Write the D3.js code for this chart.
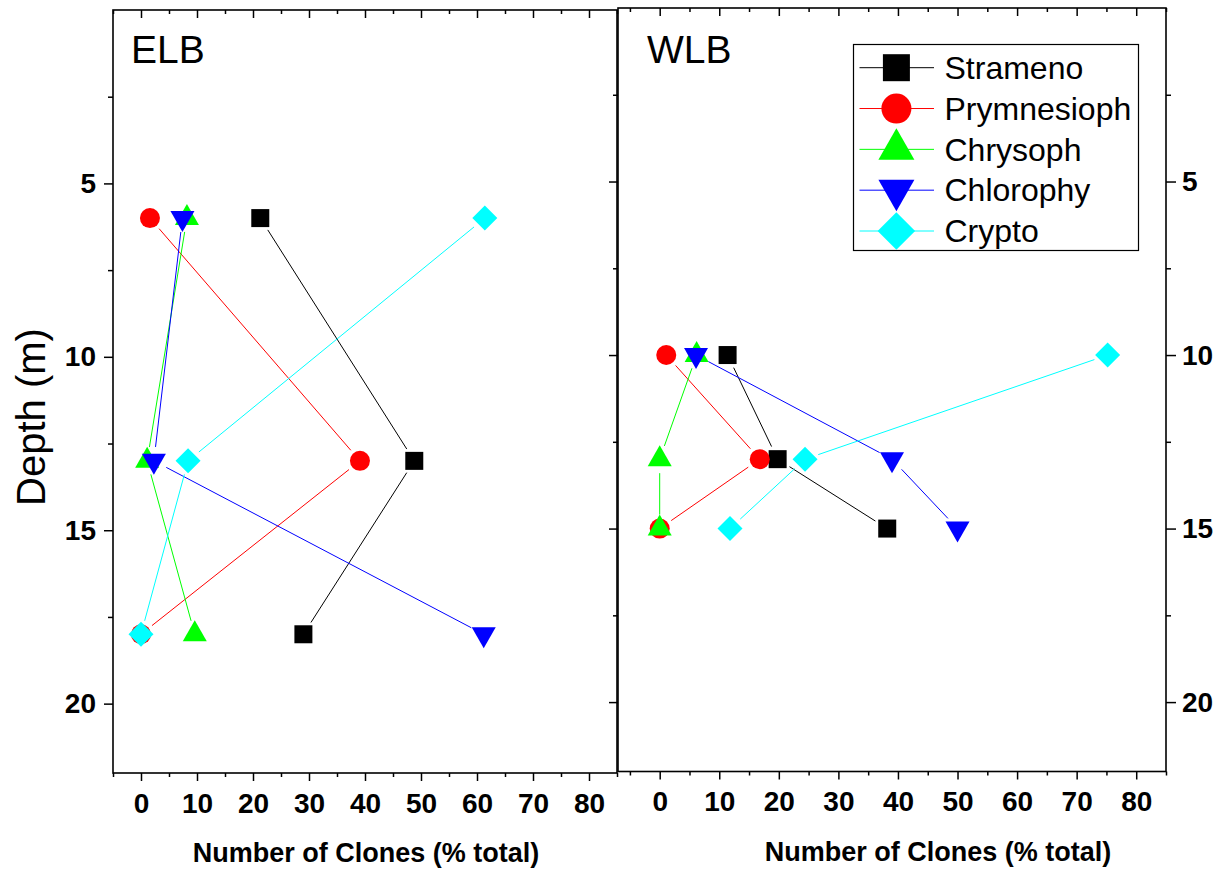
<!DOCTYPE html>
<html>
<head>
<meta charset="utf-8">
<script src="https://cdn.jsdelivr.net/npm/d3@7"></script>
<style>
  body { margin: 0; background: #fff; }
  svg { display: block; }
  text { font-family: "Liberation Sans", Arial, sans-serif; }
</style>
</head>
<body>
<svg id="chart" width="1220" height="869"></svg>
<script>
// Clone-library composition (% of total clones) by depth, two basins
const seriesNames  = ["Strameno", "Prymnesioph", "Chrysoph", "Chlorophy", "Crypto"];
const seriesColors = ["#000000", "#ff0000", "#00ff00", "#0000ff", "#00ffff"];
const seriesShapes = ["square", "circle", "triangleUp", "triangleDown", "diamond"];

// ELB stations
const elbDepths       = [6, 13, 18];
const elbStrameno     = [21.3, 48.8, 29.0];
const elbPrymnesioph  = [1.6, 39.1, 0];
const elbChrysoph     = [8.2, 1.1, 9.6];
const elbChlorophy    = [7.4, 2.3, 61.2];
const elbCrypto       = [61.4, 8.4, 0];

// WLB stations
const wlbDepths       = [10, 13, 15];
const wlbStrameno     = [11.4, 19.8, 38.2];
const wlbPrymnesioph  = [1.1, 16.8, 0];
const wlbChrysoph     = [6.2, 0, 0];
const wlbChlorophy    = [6.1, 39.0, 50.0];
const wlbCrypto       = [75.2, 24.4, 11.8];

// Axis ticks
const xTickValues  = [0, 10, 20, 30, 40, 50, 60, 70, 80];
const xMinorValues = [-5, 5, 15, 25, 35, 45, 55, 65, 75, 85];
const yTickValues  = [5, 10, 15, 20];
const yMinorValues = [2.5, 7.5, 12.5, 17.5];

const xTitle = "Number of Clones (% total)";
const yTitle = "Depth (m)";

const svg = d3.select("#chart");

// Marker outline for each series shape; k scales it (legend uses larger markers)
function shapePath(kind, k) {
  switch (kind) {
    case "square": {
      const a = 9 * k;
      return `M${-a},${-a}H${a}V${a}H${-a}Z`;
    }
    case "circle": {
      const r = 10 * k;
      return `M${r},0A${r},${r} 0 1,1 ${-r},0A${r},${r} 0 1,1 ${r},0Z`;
    }
    case "triangleUp": {
      const w = 12 * k, t = -14 * k, b = 7 * k;
      return `M0,${t}L${w},${b}L${-w},${b}Z`;
    }
    case "triangleDown": {
      const w = 12 * k, t = 14 * k, b = -7 * k;
      return `M0,${t}L${w},${b}L${-w},${b}Z`;
    }
    case "diamond": {
      const a = 12.5 * k;
      return `M0,${-a}L${a},0L0,${a}L${-a},0Z`;
    }
  }
}

function styleTicks(g, fontSize) {
  g.select(".domain").remove();
  g.selectAll(".tick line").attr("stroke", "#000").attr("stroke-width", 1.5);
  g.selectAll(".tick text")
    .attr("fill", "#000")
    .style("font-size", fontSize + "px")
    .style("font-weight", "bold");
}

function drawPanel(cfg) {
  const x = d3.scaleLinear().domain(cfg.xDomain).range([cfg.left, cfg.right]);
  const y = d3.scaleLinear().domain([0, 22]).range([cfg.top, cfg.bottom]);
  const g = svg.append("g");

  // bottom axis: outward ticks with labels
  g.append("g").attr("transform", `translate(0,${cfg.bottom})`)
    .call(d3.axisBottom(x).tickValues(xTickValues).tickSize(8).tickPadding(12).tickFormat(d3.format("d")))
    .call(a => styleTicks(a, 28));
  g.append("g").attr("transform", `translate(0,${cfg.bottom})`)
    .call(d3.axisBottom(x).tickValues(xMinorValues).tickSize(4).tickFormat(""))
    .call(a => styleTicks(a, 28));

  // top axis: inward ticks
  g.append("g").attr("transform", `translate(0,${cfg.top})`)
    .call(d3.axisTop(x).tickValues(xTickValues).tickSize(-8).tickFormat(""))
    .call(a => styleTicks(a, 28));
  g.append("g").attr("transform", `translate(0,${cfg.top})`)
    .call(d3.axisTop(x).tickValues(xMinorValues).tickSize(-4).tickFormat(""))
    .call(a => styleTicks(a, 28));

  // left axis: outward ticks
  g.append("g").attr("transform", `translate(${cfg.left},0)`)
    .call(d3.axisLeft(y).tickValues(yTickValues).tickSize(9).tickPadding(8)
      .tickFormat(cfg.leftLabels ? d3.format("d") : ""))
    .call(a => styleTicks(a, 28));
  g.append("g").attr("transform", `translate(${cfg.left},0)`)
    .call(d3.axisLeft(y).tickValues(yMinorValues).tickSize(5).tickFormat(""))
    .call(a => styleTicks(a, 28));

  if (cfg.rightAxis) {
    g.append("g").attr("transform", `translate(${cfg.right},0)`)
      .call(d3.axisRight(y).tickValues(yTickValues).tickSize(10).tickPadding(6).tickFormat(d3.format("d")))
      .call(a => styleTicks(a, 28));
    g.append("g").attr("transform", `translate(${cfg.right},0)`)
      .call(d3.axisRight(y).tickValues(yMinorValues).tickSize(5).tickFormat(""))
      .call(a => styleTicks(a, 28));
  }

  // frame
  g.append("rect")
    .attr("x", cfg.left).attr("y", cfg.top)
    .attr("width", cfg.right - cfg.left).attr("height", cfg.bottom - cfg.top)
    .attr("fill", "none").attr("stroke", "#000").attr("stroke-width", 1.6);

  // series: connecting segments stop short of each marker
  const gap = 14;
  cfg.series.forEach((vals, i) => {
    const pts = vals.map((v, j) => [x(v), y(cfg.depths[j])]);
    const sg = g.append("g");
    for (let j = 0; j < pts.length - 1; j++) {
      const [x1, y1] = pts[j], [x2, y2] = pts[j + 1];
      const len = Math.hypot(x2 - x1, y2 - y1);
      if (len <= 2 * gap) continue;
      const ux = (x2 - x1) / len, uy = (y2 - y1) / len;
      sg.append("line")
        .attr("x1", x1 + ux * gap).attr("y1", y1 + uy * gap)
        .attr("x2", x2 - ux * gap).attr("y2", y2 - uy * gap)
        .attr("stroke", seriesColors[i]).attr("stroke-width", 1);
    }
    sg.selectAll("path.marker").data(pts).join("path")
      .attr("class", "marker")
      .attr("transform", d => `translate(${d[0]},${d[1]})`)
      .attr("d", shapePath(seriesShapes[i], 1))
      .attr("fill", seriesColors[i]);
  });

  // basin label
  g.append("text")
    .attr("x", cfg.labelX).attr("y", 63)
    .style("font-size", "39px")
    .attr("fill", "#000")
    .text(cfg.label);

  // x-axis title
  g.append("text")
    .attr("x", cfg.titleX).attr("y", cfg.titleY)
    .attr("text-anchor", "middle")
    .style("font-size", "27px").style("font-weight", "bold")
    .attr("fill", "#000")
    .text(xTitle);
}

drawPanel({
  left: 113, right: 617, top: 10, bottom: 773,
  xDomain: [-5, 85],
  depths: elbDepths,
  series: [elbStrameno, elbPrymnesioph, elbChrysoph, elbChlorophy, elbCrypto],
  leftLabels: true, rightAxis: false,
  label: "ELB", labelX: 131,
  titleX: 366, titleY: 862
});

drawPanel({
  left: 618, right: 1166, top: 8, bottom: 771.5,
  xDomain: [-7, 85],
  depths: wlbDepths,
  series: [wlbStrameno, wlbPrymnesioph, wlbChrysoph, wlbChlorophy, wlbCrypto],
  leftLabels: false, rightAxis: true,
  label: "WLB", labelX: 647,
  titleX: 938, titleY: 861
});

// y-axis title
svg.append("text")
  .attr("transform", "translate(45,417) rotate(-90)")
  .attr("text-anchor", "middle")
  .style("font-size", "40px")
  .attr("fill", "#000")
  .text(yTitle);

// legend
const legend = svg.append("g");
legend.append("rect")
  .attr("x", 853.5).attr("y", 44.5).attr("width", 285).attr("height", 206)
  .attr("fill", "#fff").attr("stroke", "#000").attr("stroke-width", 1.2);
const legendY = d3.scalePoint().domain(seriesNames).range([67.7, 231]);
seriesNames.forEach((name, i) => {
  const cy = legendY(name);
  legend.append("line")
    .attr("x1", 859.5).attr("x2", 934).attr("y1", cy).attr("y2", cy)
    .attr("stroke", seriesColors[i]).attr("stroke-width", 1);
  legend.append("path")
    .attr("transform", `translate(896.4,${cy})`)
    .attr("d", shapePath(seriesShapes[i], 1.5))
    .attr("fill", seriesColors[i]);
  legend.append("text")
    .attr("x", 944.5).attr("y", cy + 11.3)
    .style("font-size", "32px")
    .attr("fill", "#000")
    .text(name);
});
</script>
</body>
</html>
